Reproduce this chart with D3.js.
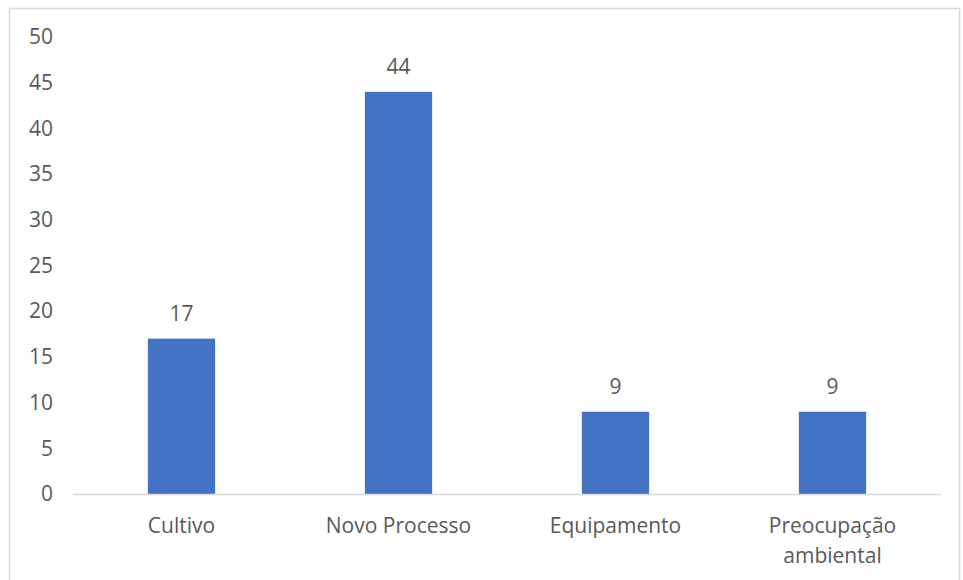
<!DOCTYPE html>
<html>
<head>
<meta charset="utf-8">
<script src="https://cdn.jsdelivr.net/npm/d3@7"></script>
<style>
  body { margin: 0; background: #fff; }
  text { font-family: "Open Sans", "Noto Sans", sans-serif; fill: #595959; }
</style>
</head>
<body>
<script>
var categories = [["Cultivo"], ["Novo Processo"], ["Equipamento"], ["Preocupação", "ambiental"]];
var values = [17, 44, 9, 9];
var yTicks = [0, 5, 10, 15, 20, 25, 30, 35, 40, 45, 50];

var W = 963, H = 580;
var margin = {top: 37, right: 22, bottom: 86, left: 73},
    width = W - margin.left - margin.right,
    height = H - margin.top - margin.bottom;

var svg = d3.select("body").append("svg")
    .attr("width", W)
    .attr("height", H);

// chart border
svg.append("rect")
    .attr("x", 9.5).attr("y", 8.5)
    .attr("width", 950).attr("height", 590)
    .attr("fill", "none")
    .attr("stroke", "#d9d9d9")
    .attr("stroke-width", 1.5);

var g = svg.append("g")
    .attr("transform", "translate(" + margin.left + "," + margin.top + ")");

var x = d3.scaleBand()
    .domain(d3.range(values.length))
    .range([0, width])
    .padding(0);

var y = d3.scaleLinear().domain([0, 50]).range([height, 0]);

var barW = x.bandwidth() * 0.31;

// y axis labels (no line)
var yAxis = d3.axisLeft(y).tickValues(yTicks).tickSize(0).tickPadding(20);
g.append("g").call(yAxis)
    .call(function(s) { s.select(".domain").remove(); })
    .selectAll("text")
    .style("font-size", "21px")
    .style("font-family", null)
    .attr("fill", "#595959");

// bars
g.selectAll("rect.bar")
    .data(values)
    .enter().append("rect")
    .attr("class", "bar")
    .attr("x", function(d, i) { return x(i) + (x.bandwidth() - barW) / 2; })
    .attr("y", function(d) { return y(d); })
    .attr("width", barW)
    .attr("height", function(d) { return height - y(d); })
    .attr("fill", "#4472c4");

// baseline
g.append("line")
    .attr("x1", 0).attr("x2", width)
    .attr("y1", height + 0.5).attr("y2", height + 0.5)
    .attr("stroke", "#d9d9d9")
    .attr("stroke-width", 1.5);

// data labels
g.selectAll("text.val")
    .data(values)
    .enter().append("text")
    .attr("class", "val")
    .attr("x", function(d, i) { return x(i) + x.bandwidth() / 2; })
    .attr("y", function(d) { return y(d) - 18; })
    .attr("text-anchor", "middle")
    .style("font-size", "21px")
    .text(function(d) { return d; });

// category labels
var cat = g.selectAll("text.cat")
    .data(categories)
    .enter().append("text")
    .attr("class", "cat")
    .attr("x", function(d, i) { return x(i) + x.bandwidth() / 2; })
    .attr("y", height + 39)
    .attr("text-anchor", "middle")
    .style("font-size", "21px");

cat.selectAll("tspan")
    .data(function(d) { return d; })
    .enter().append("tspan")
    .attr("x", function() { return this.parentNode.getAttribute("x"); })
    .attr("dy", function(d, i) { return i === 0 ? 0 : 30; })
    .text(function(d) { return d; });
</script>
</body>
</html>
